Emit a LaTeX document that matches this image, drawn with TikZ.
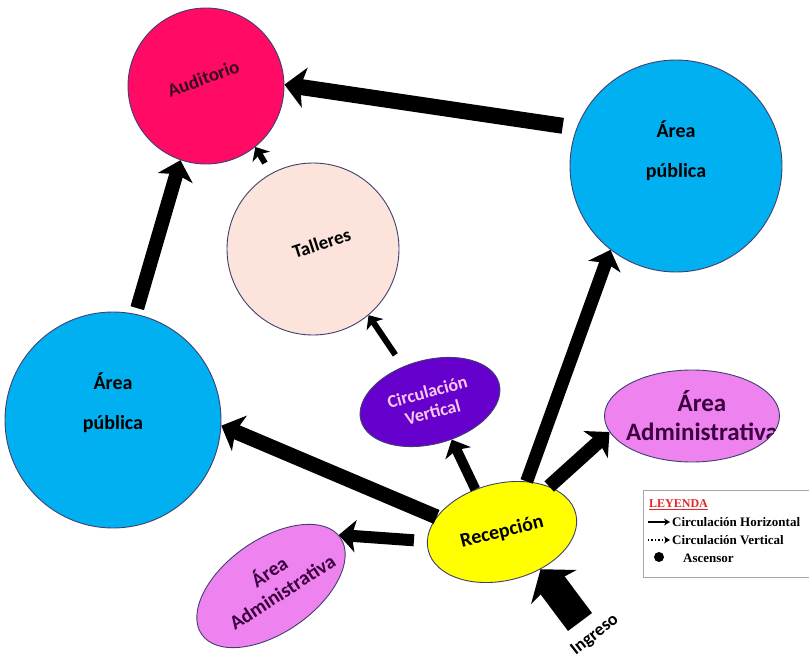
\documentclass[tikz,border=0pt]{standalone}
\usepackage{fontspec}
\setmainfont{Carlito}
\newfontfamily\leyfont{Liberation Serif}
\usetikzlibrary{arrows.meta}
\usetikzlibrary{shapes.geometric}
\definecolor{pk}{HTML}{FF0A64}
\definecolor{cy}{HTML}{00B0F0}
\definecolor{pe}{HTML}{FCE4DC}
\definecolor{vi}{HTML}{6600CC}
\definecolor{mg}{HTML}{EE82EE}
\definecolor{yl}{HTML}{FFFF00}
\definecolor{ed}{HTML}{404070}
\definecolor{pkt}{HTML}{3A0A1E}
\definecolor{mgt}{HTML}{3C0040}
\definecolor{vit}{HTML}{F8C8F0}
\definecolor{lr}{HTML}{E02828}
\newcommand{\fs}[2]{\bfseries\fontsize{#1}{#2}\selectfont}

\begin{document}
\begin{tikzpicture}[x=1pt,y=-1pt,
  room/.style={draw=ed,line width=0.9pt,inner sep=0pt},
  txt/.style={align=center,inner sep=0pt},
  flow/.style={line width=#1,-{Stealth[length=6pt 0.9,width=8pt 2,inset=2pt 0.15]}},
  ingflow/.style={line width=30pt,-{Stealth[length=22pt,width=56pt,inset=4pt]}},
  leg/.style={anchor=west,inner sep=0pt,font=\leyfont\fs{13}{15}},
  legarr/.style={line width=1.4pt,shorten >=2pt,-{Stealth[length=6pt,width=7pt]}}]
\path[use as bounding box,fill=white] (0,0) rectangle (809,661);

\node[room,circle,fill=pk,minimum size=156pt,label={[txt,text=pkt,font=\fs{19}{23},rotate=20,yshift=8pt]center:Auditorio}] (aud) at (206,86) {};
\node[room,circle,fill=cy,minimum size=212pt,label={[txt,font=\fs{20}{24},yshift=15pt]center:Área\\[16pt]pública}] (pubR) at (676,166) {};
\node[room,circle,fill=pe,minimum size=172pt,label={[txt,font=\fs{19}{23},rotate=18,xshift=10pt,yshift=3pt]center:Talleres}] (tal) at (313,249) {};
\node[room,circle,fill=cy,minimum size=216pt,label={[txt,font=\fs{20}{24},yshift=17pt]center:Área\\[16pt]pública}] (pubL) at (113,420) {};
\node[room,ellipse,fill=vi,minimum width=143pt,minimum height=84pt,rotate=15,align=center,text=vit,font=\fs{18}{21}] (cv) at (430,402) {Circulación\\Vertical};
\node[room,ellipse,fill=mg,minimum width=175pt,minimum height=92pt,path picture={\node[txt,text=mgt,font=\fs{25}{29}] at ([xshift=10pt]path picture bounding box.center) {Área\\Administrativa};}] (admR) at (692,416) {};
\node[room,ellipse,fill=yl,minimum width=152pt,minimum height=97pt,rotate=14,font=\fs{20}{24}] (rec) at (502,532) {Recepción};
\node[room,ellipse,fill=mg,minimum width=169pt,minimum height=93pt,rotate=35,path picture={\node[txt,text=mgt,font=\fs{20}{24},rotate=33] at ([xshift=5pt]path picture bounding box.center) {Área\\Administrativa};}] (admL) at (271,586) {};
\node[inner sep=0pt,font=\fs{18}{20},rotate=38] (ing) at (595,635) {Ingreso};
\coordinate (ingT) at (580,622);

\draw[flow=16pt,shorten <=14pt] (pubR.159) -- (aud.1);
\draw[flow=14pt,shorten <=6pt] (pubL.78) -- (aud.251);
\draw[flow=6pt,shorten <=12pt] (tal.119) -- (aud.-51);
\draw[flow=6pt,shorten <=14pt] (cv.112) -- (tal.-50);
\draw[flow=15pt] (rec.153) -- (pubL.-3);
\draw[flow=10pt] (rec.108) -- (cv.-75);
\draw[flow=13pt] (rec.50) -- (pubR.232);
\draw[flow=14pt] (rec.30) -- (admR.191);
\draw[flow=12pt,shorten <=13pt] (rec.173) -- (admL.2);
\draw[ingflow] (ingT) -- (rec.-58);

\node[draw=gray!70,line width=1.2pt,fill=white,minimum width=172pt,minimum height=87pt,anchor=north west] (ley) at (643,490) {};
\node[anchor=west,inner sep=0pt,text=lr,font=\leyfont\fs{12}{14}] (leyT) at (649,505) {\underline{LEYENDA}};
\node[leg] (lgH) at (672,522) {Circulación Horizontal};
\node[leg] (lgV) at (672,540) {Circulación Vertical};
\node[leg] (lgA) at (683,558) {Ascensor};
\node[circle,fill=black,inner sep=0pt,minimum size=10pt] (lgDot) at (659,557) {};
\coordinate (lgH0) at (648,522);
\coordinate (lgV0) at (648,540);
\draw[legarr] (lgH0) -- (lgH.west);
\draw[legarr,dotted] (lgV0) -- (lgV.west);
\end{tikzpicture}
\end{document}
